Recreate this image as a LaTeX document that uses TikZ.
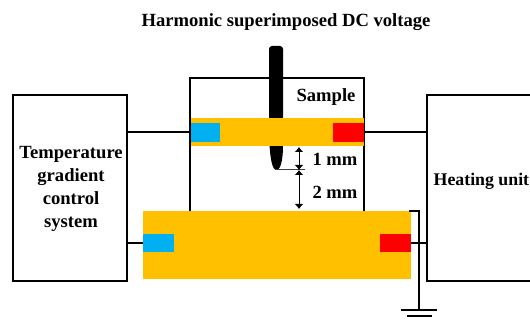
\documentclass[tikz,border=0pt]{standalone}
\usepackage{fontspec}
\setmainfont{Liberation Serif}
\definecolor{barorange}{HTML}{FFC000}
\definecolor{padblue}{HTML}{00B0F0}
\definecolor{padred}{HTML}{FF0000}
\usetikzlibrary{arrows.meta}
\tikzset{
  px/.style={x=1pt,y=-1pt},
  unitbox/.style={draw=black,line width=2pt,fill=white,rectangle,inner sep=0pt,outer sep=0pt},
  wire/.style={draw=black,line width=2pt},
  fillblock/.style={rectangle,inner sep=0pt,outer sep=0pt},
  lab/.style={font=\fontsize{18.6}{23}\selectfont\bfseries,inner sep=0pt,align=center,text=black},
  dim/.style={draw=black,line width=1pt,{Latex[length=5pt,width=9pt]}-{Latex[length=5pt,width=9pt]}},
}
\begin{document}
\begin{tikzpicture}[px]
\useasboundingbox (0,0) rectangle (530,320);
\clip (0,0) rectangle (530,320);
\fill[white] (0,0) rectangle (530,320);
% units
\node[unitbox,minimum width=114pt,minimum height=186pt] (temp) at (70,188) {};
\node[unitbox,minimum width=124pt,minimum height=186pt] (heat) at (489,188) {};
\node[unitbox,minimum width=174pt,minimum height=134pt] (sample) at (277,145) {};
% named anchors for wires
\coordinate (tempU) at (127,132);
\coordinate (sampL) at (190,132);
\coordinate (sampR) at (364,132);
\coordinate (heatU) at (427,132);
\coordinate (tempL) at (127,243);
\coordinate (heatL) at (427,243);
\draw[wire] (tempU) -- (sampL);
\draw[wire] (sampR) -- (heatU);
% needle
\fill[black,rounded corners=3pt] (269,120) -- (269,46) -- (283,46) -- (283,120) -- cycle;
\fill[black] (269.5,146) .. controls (270.5,158) and (272,170) .. (276.5,170) .. controls (281,170) and (283,158) .. (283,146) -- cycle;
% upper bar
\node[fillblock,fill=barorange,minimum width=173pt,minimum height=28pt] (upbar) at (277.5,132) {};
\node[fillblock,fill=padblue,minimum width=29pt,minimum height=19pt] (upblue) at (205.5,132.5) {};
\node[fillblock,fill=padred,minimum width=31pt,minimum height=19pt] (upred) at (348.5,132.5) {};
% lower bar
\node[fillblock,fill=barorange,minimum width=268pt,minimum height=68pt] (lowbar) at (277,245) {};
\node[fillblock,fill=padblue,minimum width=31pt,minimum height=18pt] (lowblue) at (158.5,243) {};
\node[fillblock,fill=padred,minimum width=31pt,minimum height=18pt] (lowred) at (395.5,243) {};
\draw[wire] (tempL) -- (lowblue.west);
\draw[wire] (lowred.east) -- (heatL);
% ground
\coordinate (gndTop) at (409,211);
\coordinate (gndCorner) at (419,211);
\coordinate (gndBase) at (419,310);
\coordinate (gA) at (401,310);
\coordinate (gB) at (437,310);
\coordinate (gC) at (407,316);
\coordinate (gD) at (432,316);
\draw[wire,line width=1.6pt] (gndTop) -- (gndCorner) -- (gndBase);
\draw[wire,line width=1.6pt] (gA) -- (gB);
\draw[wire,line width=1.6pt] (gC) -- (gD);
% dimensions
\coordinate (tip) at (276,170);
\coordinate (tipEnd) at (305,170);
\coordinate (d1) at (299,147);
\coordinate (d2) at (299,170);
\coordinate (d3) at (299,209);
\draw[draw=black!75,line width=1pt] (tip) -- (tipEnd);
\draw[dim] (d1) -- (d2);
\draw[dim] (d2) -- (d3);
% labels
\node[lab] (title) at (286,22) {Harmonic superimposed DC voltage};
\node[lab] (samplabel) at (326,97) {Sample};
\node[lab] (mm1) at (335,159) {1 mm};
\node[lab] (mm2) at (335,192) {2 mm};
\node[lab] (templabel) at (71,189) {Temperature\\gradient\\control\\system};
\node[lab,anchor=west,font=\fontsize{17.8}{22}\selectfont\bfseries] (heatlabel) at (433.5,181) {Heating unit};
\end{tikzpicture}
\end{document}
